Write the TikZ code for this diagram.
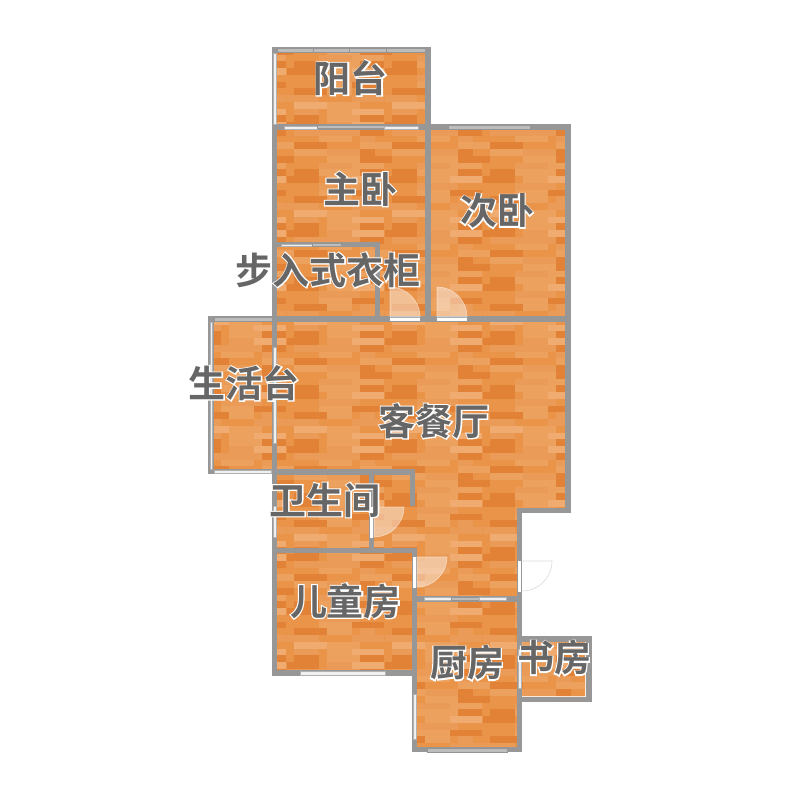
\documentclass[tikz,border=0pt]{standalone}
\usepackage{fontspec}
\newfontfamily\roomfont[BoldFont={Noto Sans CJK SC Bold}]{Noto Sans CJK SC}
\newfontfamily\halofont[FakeBold=6]{Noto Sans CJK SC Bold}
\definecolor{wallgray}{HTML}{979797}
\definecolor{textgray}{HTML}{666666}
\definecolor{woodbase}{HTML}{E99449}
\definecolor{woodd}{HTML}{E28236}
\definecolor{woodt}{HTML}{EA9B57}
\definecolor{woodl}{HTML}{ECA15F}
\definecolor{woodk}{HTML}{F0AC70}
\tikzset{
  wall/.style={fill=wallgray},
  panegray/.style={fill=black!26,draw=black!42,line width=.2pt},
  panewhite/.style={fill=black!6,draw=black!30,line width=.2pt},
  doorleaf/.style={fill=white,fill opacity=.42,draw=white,draw opacity=.5,line width=.3pt},
  roomhalo/.style={text=white,font=\halofont\fontsize{18.5pt}{18.5pt}\selectfont,inner sep=0pt},
  roomlabel/.style={text=textgray,font=\roomfont\bfseries\fontsize{18.5pt}{18.5pt}\selectfont,inner sep=0pt},
}
\begin{document}
\begin{tikzpicture}[x=.5pt,y=-.5pt]
  \useasboundingbox (0,0) rectangle (800,800);

  % floor
  \begin{scope}
    \clip (277,53) rectangle (425,124)
          (277,130) rectangle (425,316)
          (431,130) rectangle (565,316)
          (214,322) rectangle (272,469)
          (277,322) rectangle (565,508)
          (277,475) rectangle (517,548)
          (374,508) rectangle (517,596)
          (277,553) rectangle (412,670)
          (417,602) rectangle (517,747)
          (522,642) rectangle (585,696);
    \fill[woodbase] (200,40) rectangle (600,760);
    \foreach \i in {1,...,6}{
      \foreach \j in {0,...,6}{
        \begin{scope}[shift={(-17+98*\i,0.7+108*\j)}]
          \foreach \r/\a/\b/\c in {
            0/17/42/woodt,0/50/75/woodl,0/75/107/woodk,
            1/17/42/woodd,1/50/83/woodl,1/83/107/woodd,
            2/10/42/woodd,2/50/75/woodt,2/75/107/woodk,
            3/17/42/woodt,3/42/83/woodt,3/83/107/woodd,
            4/42/75/woodl,4/83/98/woodt,
            5/17/50/woodd,5/83/115/woodl,
            6/17/50/woodl,6/50/83/woodt,6/83/98/woodd,
            7/50/83/woodl,7/83/115/woodd,
            8/42/75/woodt,8/75/107/woodl,
            9/17/42/woodd,9/42/83/woodl,9/83/107/woodd,
            10/10/42/woodd,10/50/75/woodl,10/75/107/woodk,
            11/42/83/woodt,
            12/42/75/woodl,12/75/107/woodd,
            13/17/50/woodd,13/50/75/woodl,13/83/98/woodt,
            14/10/42/woodt,14/75/107/woodt,
            15/17/50/woodk,15/50/83/woodl}
          {
            \fill[\c] (\a,{\r*6.75}) rectangle (\b,{(\r+1)*6.75});
          }
        \end{scope}
      }
    }
  \end{scope}

  % walls
  \foreach \xa/\ya/\xb/\yb in {
    271.6/47/430.6/53, 271.6/47/277.4/130, 425/47/431/130,
    271.6/124/571/130, 271.6/124/277.4/322, 425/124/431/322,
    565/124/571/513, 208/316.4/571/322.2,
    277/241.8/380/247.2, 374.8/241.8/380.2/316,
    208/316.4/214/474, 208/468.8/277/474.2,
    271.6/316/277.4/676, 271.6/469/415.2/475, 409.8/469/415.2/506,
    368.8/475/374.2/553, 271.6/547.8/417.4/553.2, 411.8/547.8/417.4/752.4,
    271.6/670/417.4/676, 516.8/508/571/513.4, 516.8/508/522.2/752.4,
    411.8/596/522.2/602, 411.8/747/522.2/752.4,
    522/636/592/642, 585.6/636/592/702.4, 522/696.6/592/702.4}
  {
    \fill[wall] (\xa,\ya) rectangle (\xb,\yb);
  }

  % windows
  \foreach \xa/\ya/\xb/\yb/\s in {
    277/48/313/52/panegray, 313/48/349/52/panegray, 349/48/386/52/panegray, 386/48/425/52/panegray,
    273/53/276/124/panewhite,
    284/126/317/129/panewhite, 317/125.5/384/128/panegray, 384/126/418/129/panewhite,
    448/125/530/129/panegray,
    281/244/312/246/panewhite, 312/243.5/341/246/panegray,
    214/317.5/272/321/panegray, 210/322/212.5/469/panewhite, 214/470/271/473/panewhite,
    273/347/276/443/panewhite, 273/506/276/537/panewhite,
    300/671.5/385/675/panewhite,
    424/597.5/451/600.5/panewhite, 451/597.5/479/600.5/panegray, 479/597.5/506/600.5/panewhite,
    413.5/694/416/739/panewhite, 427/748.5/507/752/panegray,
    518.5/649/521/688/panewhite}
  {
    \path[\s] (\xa,\ya) rectangle (\xb,\yb);
  }

  % doors
  \foreach \cx/\cy in {390/317, 437/317}{
    \path[doorleaf] (\cx,\cy) -- ++(0,-30) arc[start angle=90,end angle=0,radius=15pt] -- cycle;
    \path[fill=white] (\cx,317.5) rectangle ++(30,3);
  }
  \path[doorleaf] (374,507) -- ++(30,0) arc[start angle=0,end angle=-90,radius=15pt] -- cycle;
  \path[fill=white] (370,507) rectangle (373,538);
  \path[doorleaf] (417,557) -- ++(30,0) arc[start angle=0,end angle=-90,radius=15pt] -- cycle;
  \path[fill=white] (413,557) rectangle (416,588);
  \draw[black!15,line width=.3pt] (522,561) -- ++(30,0) arc[start angle=0,end angle=-90,radius=15pt];
  \path[fill=white] (518,561) rectangle (521,592);

  % labels
  \foreach \n/\p/\t in {
    balcony/{351,78}/阳台, master/{360,189}/主卧, second/{497,211}/次卧,
    closet/{328,270}/步入式衣柜, utility/{244,383}/生活台, living/{434,421}/客餐厅,
    bath/{325,500}/卫生间, kids/{345.5,601}/儿童房, kitchen/{467,663}/厨房, study/{554,658}/书房}
  {
    \node[roomhalo] (halo_\n) at (\p) {\t};
    \node[roomlabel] (label_\n) at (\p) {\t};
  }
\end{tikzpicture}
\end{document}
